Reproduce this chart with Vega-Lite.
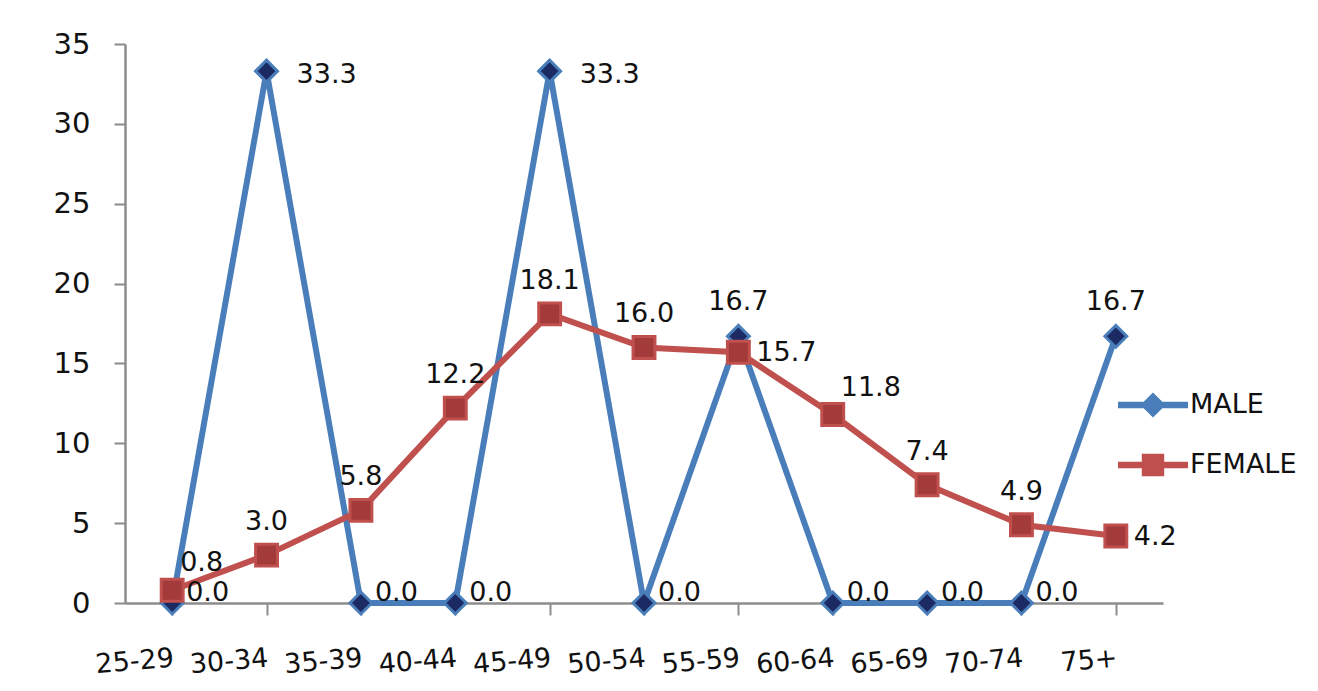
{
  "$schema": "https://vega.github.io/schema/vega-lite/v6.json",
  "autosize": "none",
  "width": 1038,
  "height": 559,
  "padding": {"left": 125, "top": 44, "right": 155, "bottom": 88},
  "background": "white",
  "config": {
    "view": {"stroke": null},
    "font": "DejaVu Sans",
    "text": {"font": "DejaVu Sans", "fontSize": 27, "color": "#111111"}
  },
  "data": {
    "values": [
      {"age": "25-29", "sex": "MALE", "value": 0.0},
      {"age": "30-34", "sex": "MALE", "value": 33.3},
      {"age": "35-39", "sex": "MALE", "value": 0.0},
      {"age": "40-44", "sex": "MALE", "value": 0.0},
      {"age": "45-49", "sex": "MALE", "value": 33.3},
      {"age": "50-54", "sex": "MALE", "value": 0.0},
      {"age": "55-59", "sex": "MALE", "value": 16.7},
      {"age": "60-64", "sex": "MALE", "value": 0.0},
      {"age": "65-69", "sex": "MALE", "value": 0.0},
      {"age": "70-74", "sex": "MALE", "value": 0.0},
      {"age": "75+", "sex": "MALE", "value": 16.7},
      {"age": "25-29", "sex": "FEMALE", "value": 0.8},
      {"age": "30-34", "sex": "FEMALE", "value": 3.0},
      {"age": "35-39", "sex": "FEMALE", "value": 5.8},
      {"age": "40-44", "sex": "FEMALE", "value": 12.2},
      {"age": "45-49", "sex": "FEMALE", "value": 18.1},
      {"age": "50-54", "sex": "FEMALE", "value": 16.0},
      {"age": "55-59", "sex": "FEMALE", "value": 15.7},
      {"age": "60-64", "sex": "FEMALE", "value": 11.8},
      {"age": "65-69", "sex": "FEMALE", "value": 7.4},
      {"age": "70-74", "sex": "FEMALE", "value": 4.9},
      {"age": "75+", "sex": "FEMALE", "value": 4.2}
    ]
  },
  "encoding": {
    "x": {
      "field": "age", "type": "nominal", "sort": null,
      "scale": {"paddingInner": 0, "paddingOuter": 0},
      "axis": {
        "title": null, "bandPosition": 0, "labelAngle": -5, "labelOffset": 0,
        "labelFont": "DejaVu Sans", "labelFontSize": 27, "labelColor": "#111111",
        "labelPadding": 30, "tickSize": 12, "tickWidth": 2, "tickColor": "#8c8c8c",
        "domainColor": "#8c8c8c", "domainWidth": 2.5, "grid": false
      }
    },
    "y": {
      "field": "value", "type": "quantitative",
      "scale": {"domain": [0, 35], "nice": false},
      "axis": {
        "title": null, "values": [0, 5, 10, 15, 20, 25, 30, 35], "grid": false,
        "labelFont": "DejaVu Sans", "labelFontSize": 29, "labelColor": "#111111",
        "labelPadding": 24, "tickSize": 11, "tickWidth": 2, "tickColor": "#8c8c8c",
        "domainColor": "#8c8c8c", "domainWidth": 2.5
      }
    }
  },
  "layer": [
    {
      "mark": {"type": "line", "strokeWidth": 6, "strokeJoin": "miter"},
      "encoding": {
        "stroke": {"field": "sex", "type": "nominal",
          "scale": {"domain": ["MALE", "FEMALE"], "range": ["#4a7ebb", "#c0504d"]},
          "legend": null}
      }
    },
    {
      "mark": {"type": "point", "filled": true, "size": 480, "strokeWidth": 3, "opacity": 1},
      "encoding": {
        "shape": {"field": "sex", "type": "nominal",
          "scale": {"domain": ["MALE", "FEMALE"], "range": ["diamond", "square"]},
          "legend": null},
        "fill": {"field": "sex", "type": "nominal",
          "scale": {"domain": ["MALE", "FEMALE"], "range": ["#1c2a63", "#a33b3a"]},
          "legend": null},
        "stroke": {"field": "sex", "type": "nominal", "legend": null}
      }
    },
    {
      "mark": {"type": "point", "filled": true, "size": 0, "opacity": 1},
      "encoding": {
        "color": {"field": "sex", "type": "nominal",
          "scale": {"domain": ["MALE", "FEMALE"], "range": ["#4a7ebb", "#c0504d"]},
          "legend": {
            "title": null, "orient": "none", "legendX": 993, "legendY": 326,
            "symbolSize": 4900, "symbolOpacity": 1, "symbolStrokeWidth": 0,
            "labelFont": "DejaVu Sans", "labelFontSize": 27, "labelColor": "#111111",
            "labelOffset": 2, "rowPadding": 12, "padding": 0
          }},
        "shape": {"field": "sex", "type": "nominal",
          "scale": {"domain": ["MALE", "FEMALE"], "range": [
            "M-1,-0.09L1,-0.09L1,0.09L-1,0.09Z M0,-0.36L0.36,0L0,0.36L-0.36,0Z",
            "M-1,-0.09L1,-0.09L1,0.09L-1,0.09Z M-0.32,-0.32L0.32,-0.32L0.32,0.32L-0.32,0.32Z"
          ]},
          "legend": {"title": null}}
      }
    },
    {
      "transform": [{"filter": "datum.sex === 'MALE' && datum.value === 0"}],
      "mark": {"type": "text", "align": "left", "baseline": "middle", "dx": 14, "dy": -10},
      "encoding": {"text": {"field": "value", "type": "quantitative", "format": ".1f"}}
    },
    {
      "transform": [{"filter": "datum.sex === 'MALE' && datum.value > 30"}],
      "mark": {"type": "text", "align": "left", "baseline": "middle", "dx": 30, "dy": 4},
      "encoding": {"text": {"field": "value", "type": "quantitative", "format": ".1f"}}
    },
    {
      "transform": [{"filter": "datum.sex === 'MALE' && datum.value > 10 && datum.value < 20"}],
      "mark": {"type": "text", "align": "center", "baseline": "middle", "dy": -34},
      "encoding": {"text": {"field": "value", "type": "quantitative", "format": ".1f"}}
    },
    {
      "transform": [{"filter": "datum.sex === 'FEMALE' && indexof([0.8, 11.8, 15.7, 4.2], datum.value) < 0"}],
      "mark": {"type": "text", "align": "center", "baseline": "middle", "dy": -33},
      "encoding": {"text": {"field": "value", "type": "quantitative", "format": ".1f"}}
    },
    {
      "transform": [{"filter": "datum.sex === 'FEMALE' && (datum.value === 15.7 || datum.value === 4.2)"}],
      "mark": {"type": "text", "align": "left", "baseline": "middle", "dx": 18, "dy": 1},
      "encoding": {"text": {"field": "value", "type": "quantitative", "format": ".1f"}}
    },
    {
      "transform": [{"filter": "datum.sex === 'FEMALE' && (datum.value === 0.8 || datum.value === 11.8)"}],
      "mark": {"type": "text", "align": "left", "baseline": "middle", "dx": 8, "dy": -27},
      "encoding": {"text": {"field": "value", "type": "quantitative", "format": ".1f"}}
    }
  ],
  "resolve": {"scale": {"shape": "independent", "color": "independent"}}
}
